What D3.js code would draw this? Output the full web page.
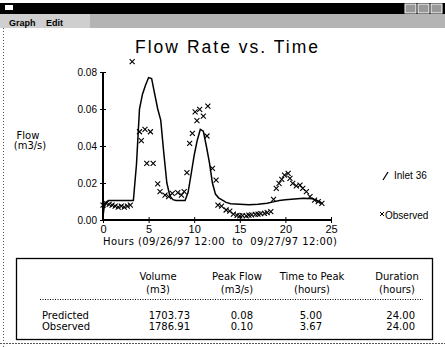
<!DOCTYPE html>
<html>
<head>
<meta charset="utf-8">
<script src="https://cdn.jsdelivr.net/npm/d3@7"></script>
<style>
  html, body { margin: 0; padding: 0; background: #fff; }
  svg { display: block; font-family: "Liberation Sans", Arial, sans-serif; }
</style>
</head>
<body>
<svg id="chart" width="445" height="347"></svg>
<script>
// Predicted hydrograph (solid line), hours vs m3/s
const predTime = [0, 0.1, 0.3, 0.6, 3.33, 3.67, 4.0, 4.33, 4.67, 5.0, 5.33, 5.67, 6.0, 6.33, 6.67, 7.0, 7.33, 7.67, 8.0, 9.0, 9.33, 9.67, 10.0, 10.33, 10.67, 11.0, 11.33, 11.67, 12.0, 12.33, 12.67, 13.0, 13.5, 14.0, 15.0, 16.0, 17.0, 18.0, 18.67, 19.33, 20.0, 21.0, 22.0, 23.0, 23.5, 24.0]
const predFlow = [0.002, 0.006, 0.0095, 0.0105, 0.0105, 0.03, 0.06, 0.068, 0.073, 0.077, 0.0765, 0.068, 0.06, 0.054, 0.036, 0.02, 0.013, 0.011, 0.0105, 0.0105, 0.015, 0.025, 0.035, 0.043, 0.049, 0.048, 0.04, 0.031, 0.02, 0.014, 0.012, 0.011, 0.0095, 0.0088, 0.0085, 0.0083, 0.0085, 0.009, 0.0098, 0.0105, 0.011, 0.0113, 0.0117, 0.0115, 0.0105, 0.009]

// Observed flows (x markers)
const obsTime = [0, 0.33, 0.67, 1.0, 1.33, 1.67, 2.0, 2.33, 2.67, 3.0, 3.2, 4.0, 4.2, 4.6, 4.8, 5.2, 5.5, 6.0, 6.25, 6.8, 7.2, 7.6, 8.2, 8.6, 8.9, 9.2, 9.5, 9.8, 10.1, 10.3, 10.6, 11.0, 11.4, 11.5, 12.0, 12.4, 12.6, 13.0, 13.5, 13.9, 14.3, 14.7, 15.0, 15.3, 15.7, 16.0, 16.3, 16.7, 17.0, 17.3, 17.7, 18.0, 18.4, 18.7, 19.0, 19.3, 19.6, 19.9, 20.3, 20.5, 20.8, 21.2, 21.6, 21.9, 22.3, 22.7, 23.2, 23.6, 24.0]
const obsFlow = [0.008, 0.009, 0.0085, 0.008, 0.0075, 0.007, 0.0075, 0.007, 0.0075, 0.008, 0.0856, 0.0477, 0.0429, 0.049, 0.0306, 0.0477, 0.0306, 0.0195, 0.0153, 0.0135, 0.0126, 0.0144, 0.0148, 0.0135, 0.0153, 0.0256, 0.0414, 0.0468, 0.0585, 0.0537, 0.0598, 0.0562, 0.0454, 0.0616, 0.0279, 0.0216, 0.0081, 0.0075, 0.0054, 0.0048, 0.0032, 0.0025, 0.0022, 0.0024, 0.0022, 0.0026, 0.0028, 0.003, 0.0032, 0.0034, 0.0036, 0.004, 0.0045, 0.0112, 0.0171, 0.0198, 0.022, 0.0243, 0.0252, 0.0225, 0.0198, 0.0184, 0.0189, 0.0171, 0.0153, 0.0126, 0.0108, 0.0099, 0.009]

const yTicks = [0, 0.02, 0.04, 0.06, 0.08]
const xTicks = [0, 5, 10, 15, 20, 25]

// Summary table
const tableHeads = [['Volume', '(m3)'], ['Peak Flow', '(m3/s)'], ['Time to Peak', '(hours)'], ['Duration', '(hours)']]
const rowNames = ['Predicted', 'Observed']
const predictedRow = ['1703.73', '0.08', '5.00', '24.00']
const observedRow = ['1786.91', '0.10', '3.67', '24.00']

const WIDE = '"DejaVu Sans", Verdana, sans-serif'
const svg = d3.select('#chart')

// --- window chrome ---
svg.append('rect').attr('x', 0).attr('y', 3).attr('width', 445).attr('height', 11).attr('fill', '#000')
svg.append('rect').attr('x', 5).attr('y', 5).attr('width', 8).attr('height', 5).attr('fill', '#fff')
;[405, 418, 431].forEach(bx => {
  svg.append('rect').attr('x', bx).attr('y', 4).attr('width', 11).attr('height', 9)
    .attr('fill', '#999').attr('stroke', '#fff').attr('stroke-width', 1)
})
svg.append('rect').attr('x', 0).attr('y', 14).attr('width', 445).attr('height', 14).attr('fill', '#b4b4b4')
svg.append('rect').attr('x', 0).attr('y', 14).attr('width', 90).attr('height', 14).attr('fill', '#cfcfcf')
svg.append('text').attr('x', 9).attr('y', 26).attr('font-size', 9).attr('font-weight', 'bold').text('Graph')
svg.append('text').attr('x', 46).attr('y', 26).attr('font-size', 9).attr('font-weight', 'bold').text('Edit')
svg.append('line').attr('x1', 3.5).attr('x2', 3.5).attr('y1', 28).attr('y2', 347)
  .attr('stroke', '#555').attr('stroke-dasharray', '1,2')
svg.append('line').attr('x1', 0).attr('x2', 445).attr('y1', 343.5).attr('y2', 343.5)
  .attr('stroke', '#555').attr('stroke-dasharray', '2,1')

// --- title ---
svg.append('text').attr('x', 226.5).attr('y', 53).attr('text-anchor', 'middle')
  .attr('font-size', 17.5).attr('textLength', 183).attr('lengthAdjust', 'spacing')
  .text('Flow Rate vs. Time')

// --- scales & axes ---
const x = d3.scaleLinear().domain([0, 25]).range([103, 331])
const y = d3.scaleLinear().domain([0, 0.08]).range([220, 72])

const yAxis = svg.append('g').attr('transform', `translate(${x(0)},0)`)
  .call(d3.axisLeft(y).tickValues(yTicks).tickFormat(d3.format('.2f')).tickSize(3).tickPadding(3))
yAxis.select('.domain').attr('stroke-width', 2).attr('d', `M0,${y(0)}V${y(0.08)}`)
yAxis.selectAll('.tick line').attr('x1', -3).attr('x2', 3)
yAxis.selectAll('text').attr('font-size', 10).attr('font-family', '"Liberation Sans", Arial, sans-serif')

const xAxis = svg.append('g').attr('transform', `translate(0,${y(0)})`)
  .call(d3.axisBottom(x).tickValues(xTicks).tickSize(3).tickPadding(2))
xAxis.select('.domain').attr('stroke-width', 2).attr('d', `M${x(0)},0H${x(25)}`)
xAxis.selectAll('.tick line').attr('y1', -3).attr('y2', 3)
xAxis.selectAll('text').attr('font-size', 11).attr('font-family', '"Liberation Sans", Arial, sans-serif')

svg.append('text').attr('x', 220).attr('y', 245).attr('text-anchor', 'middle').attr('font-size', 10)
  .attr('font-family', WIDE).attr('textLength', 234).attr('lengthAdjust', 'spacing')
  .attr('xml:space', 'preserve').text('Hours (09/26/97 12:00  to  09/27/97 12:00)')

svg.append('text').attr('x', 28).attr('y', 139).attr('text-anchor', 'middle').attr('font-size', 10)
  .attr('font-family', WIDE).text('Flow')
svg.append('text').attr('x', 30).attr('y', 149).attr('text-anchor', 'middle').attr('font-size', 10)
  .attr('font-family', WIDE).text('(m3/s)')

// --- predicted line ---
const pred = predTime.map((t, i) => [t, predFlow[i]])
svg.append('path').datum(pred)
  .attr('fill', 'none').attr('stroke', '#000').attr('stroke-width', 1.5)
  .attr('d', d3.line().x(d => x(d[0])).y(d => y(d[1])))

// --- observed markers ---
const obs = obsTime.map((t, i) => [t, obsFlow[i]])
const s = 2.5
svg.append('g').selectAll('path.obs').data(obs).join('path')
  .attr('class', 'obs')
  .attr('d', d => {
    const cx = x(d[0]), cy = y(d[1])
    return `M${cx - s},${cy - s}L${cx + s},${cy + s}M${cx - s},${cy + s}L${cx + s},${cy - s}`
  })
  .attr('stroke', '#000').attr('stroke-width', 1.1)

// --- legend ---
svg.append('line').attr('x1', 383).attr('y1', 180).attr('x2', 388).attr('y2', 172)
  .attr('stroke', '#000').attr('stroke-width', 1.3)
svg.append('text').attr('x', 394).attr('y', 179).attr('font-size', 10).text('Inlet 36')
svg.append('path').attr('d', 'M380,212L384,216M380,216L384,212').attr('stroke', '#000').attr('stroke-width', 1)
svg.append('text').attr('x', 385).attr('y', 219).attr('font-size', 10).text('Observed')

// --- summary table ---
svg.append('rect').attr('x', 16.5).attr('y', 258.5).attr('width', 416).attr('height', 81)
  .attr('fill', 'none').attr('stroke', '#000').attr('stroke-width', 1.3)
const colCenter = [158, 237, 312, 397]
const colRight = [190, 253, 322, 415]
tableHeads.forEach((h, i) => {
  svg.append('text').attr('x', colCenter[i]).attr('y', 280).attr('text-anchor', 'middle')
    .attr('font-size', 10).attr('font-family', WIDE).text(h[0])
  svg.append('text').attr('x', colCenter[i]).attr('y', 293).attr('text-anchor', 'middle')
    .attr('font-size', 10).attr('font-family', WIDE).text(h[1])
})
svg.append('line').attr('x1', 40).attr('x2', 423).attr('y1', 299.5).attr('y2', 299.5)
  .attr('stroke', '#000').attr('stroke-dasharray', '1,1.5')
;[predictedRow, observedRow].forEach((row, r) => {
  const ry = 319 + r * 11
  svg.append('text').attr('x', 42).attr('y', ry).attr('font-size', 10).attr('font-family', WIDE).text(rowNames[r])
  row.forEach((v, i) => {
    svg.append('text').attr('x', colRight[i]).attr('y', ry).attr('text-anchor', 'end')
      .attr('font-size', 10).attr('font-family', WIDE).text(v)
  })
})
</script>
</body>
</html>
